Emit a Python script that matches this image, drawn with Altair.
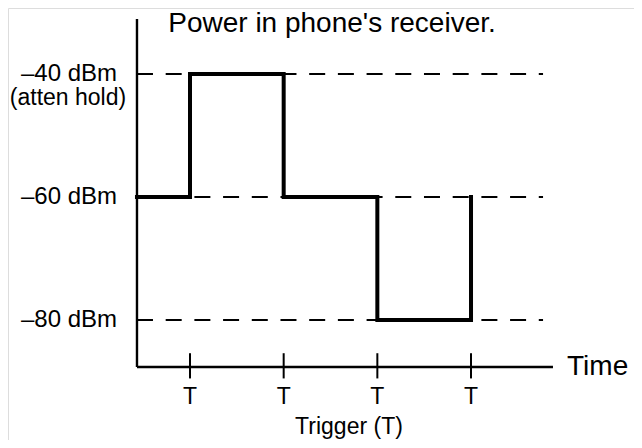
import altair as alt
import pandas as pd

# ---- data ----
trigger_times = [1, 2, 3, 4]
trigger_labels = ["T", "T", "T", "T"]
level_values = [-40, -60, -80]
level_labels = ["–40 dBm", "–60 dBm", "–80 dBm"]
step_times = [0.434, 1, 2, 3, 4]
step_levels = [-60, -40, -60, -80, -60]

# ---- layout constants (data units) ----
X_DOMAIN = [-0.943, 5.740]
Y_DOMAIN = [-99.51, -29.27]
AXIS_T = 0.434
AXIS_V = -87.64
AXIS_T_END = 4.875
AXIS_V_TOP = -31.06
DASH_T_END = 4.769
FONT = "Liberation Sans"

xs = alt.Scale(domain=X_DOMAIN, nice=False, zero=False)
ys = alt.Scale(domain=Y_DOMAIN, nice=False, zero=False)


def X(f="t"):
    return alt.X(f"{f}:Q", scale=xs, axis=None)


def Y(f="v"):
    return alt.Y(f"{f}:Q", scale=ys, axis=None)


# dashed reference levels
dash_df = pd.DataFrame({"t": [AXIS_T] * 3, "t2": [DASH_T_END] * 3, "v": level_values})
dashes = alt.Chart(dash_df).mark_rule(
    color="black", strokeWidth=2, strokeDash=[16, 12.7]
).encode(x=X(), x2="t2:Q", y=Y())

# axes lines
axes_df = pd.DataFrame({
    "t": [AXIS_T, AXIS_T],
    "t2": [AXIS_T_END, AXIS_T],
    "v": [AXIS_V, AXIS_V_TOP],
    "v2": [AXIS_V, AXIS_V],
})
axes = alt.Chart(axes_df).mark_rule(color="black", strokeWidth=2.4).encode(
    x=X(), x2="t2:Q", y=Y(), y2="v2:Q"
)

# trigger ticks
tick_df = pd.DataFrame({"t": trigger_times, "v": [-85.4] * 4, "v2": [-89.5] * 4})
ticks = alt.Chart(tick_df).mark_rule(color="black", strokeWidth=2).encode(
    x=X(), y=Y(), y2="v2:Q"
)

tick_lab_df = pd.DataFrame({"t": trigger_times, "v": [-92.44] * 4, "lab": trigger_labels})
tick_labels = alt.Chart(tick_lab_df).mark_text(
    font=FONT, fontSize=23, color="black", baseline="middle", align="center"
).encode(x=X(), y=Y(), text="lab:N")

# step waveform
step_df = pd.DataFrame({"t": step_times, "v": step_levels, "o": range(len(step_times))})
step = alt.Chart(step_df).mark_line(
    color="black", strokeWidth=4, interpolate="step-after", strokeJoin="miter", strokeCap="square"
).encode(x=X(), y=Y(), order="o:Q")

# level labels
lvl_df = pd.DataFrame({"t": [0.2206] * 3, "v": level_values, "lab": level_labels})
lvl_labels = alt.Chart(lvl_df).mark_text(
    font=FONT, fontSize=24, color="black", baseline="middle", align="right"
).encode(x=X(), y=Y(), text="lab:N")

hold_df = pd.DataFrame({"t": [-0.3025], "v": [-43.98], "lab": ["(atten hold)"]})
hold_label = alt.Chart(hold_df).mark_text(
    font=FONT, fontSize=23, color="black", baseline="middle", align="center"
).encode(x=X(), y=Y(), text="lab:N")

title_df = pd.DataFrame({"t": [2.516], "v": [-31.87], "lab": ["Power in phone's receiver."]})
title = alt.Chart(title_df).mark_text(
    font=FONT, fontSize=28, color="black", baseline="middle", align="center"
).encode(x=X(), y=Y(), text="lab:N")

time_df = pd.DataFrame({"t": [5.025], "v": [AXIS_V], "lab": ["Time"]})
time_label = alt.Chart(time_df).mark_text(
    font=FONT, fontSize=28, color="black", baseline="middle", align="left"
).encode(x=X(), y=Y(), text="lab:N")

trig_df = pd.DataFrame({"t": [2.697], "v": [-99.35], "lab": ["Trigger (T)"]})
trig_label = alt.Chart(trig_df).mark_text(
    font=FONT, fontSize=23, color="black", baseline="bottom", align="center"
).encode(x=X(), y=Y(), text="lab:N")

chart = alt.layer(
    dashes, axes, ticks, step, tick_labels, lvl_labels, hold_label, title, time_label, trig_label
).properties(
    width=626, height=432, padding=0, autosize=alt.AutoSizeParams(type="none")
).configure_view(stroke=None).configure(background="white")

chart.save("out.html", embed_options={"renderer": "svg", "actions": False})
